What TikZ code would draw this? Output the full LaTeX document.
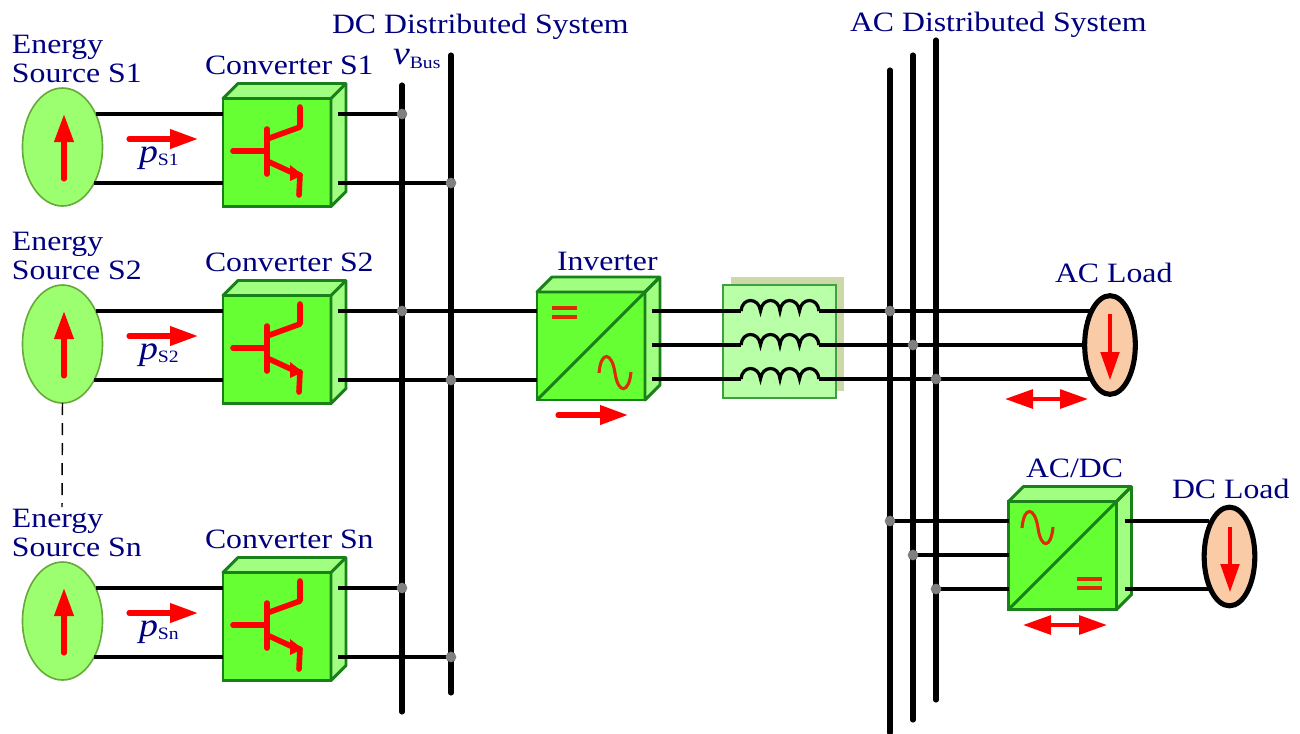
\documentclass[tikz,border=0pt]{standalone}
\usepackage{fontspec}
\setmainfont[FakeStretch=1.135]{Liberation Serif}
\usetikzlibrary{shapes.geometric,arrows.meta}
\pgfdeclarelayer{dots}
\pgfsetlayers{main,dots}
\definecolor{navytext}{HTML}{00007F}
\definecolor{cubefront}{HTML}{66FF33}
\definecolor{cubelight}{HTML}{A0FF80}
\definecolor{cubeline}{HTML}{1A801A}
\definecolor{srcfill}{HTML}{9CFF70}
\definecolor{srcline}{HTML}{66A83A}
\definecolor{loadfill}{HTML}{F9CBA6}
\definecolor{filterfill}{HTML}{B8FFA8}
\definecolor{filterline}{HTML}{3FA03F}
\definecolor{filtershade}{HTML}{CCD8A8}
\definecolor{symbolred}{HTML}{DD2A00}
\tikzset{
  lbl/.style={text=navytext,font=\fontsize{21}{21}\selectfont,inner sep=0pt,outer sep=0pt,anchor=base west},
  source/.style={ellipse,draw=srcline,fill=srcfill,line width=1.2pt,minimum width=60pt,minimum height=88.5pt,inner sep=0pt,outer sep=0pt},
  load/.style={ellipse,draw=black,fill=loadfill,line width=3.8pt,minimum width=38pt,minimum height=74pt,inner sep=0pt,outer sep=0pt},
  cubebox/.style={rectangle,draw=cubeline,fill=cubefront,line width=2.2pt,minimum size=81pt,inner sep=0pt,outer sep=0pt},
  cubeface/.style={draw=cubeline,fill=cubelight,line width=2.2pt,line join=round},
  cubeedge/.style={draw=cubeline,line width=2.2pt},
  bus/.style={line width=3.8pt,line cap=round},
  wire/.style={line width=2.4pt},
  junction/.style={circle,fill=black!50,inner sep=0pt,outer sep=0pt,minimum size=8pt},
  flow/.style={draw=red,line width=3.8pt,line cap=round,-{Triangle[length=21pt,width=14pt,fill=red]}},
  biflow/.style={draw=red,line width=3pt,{Triangle[length=21pt,width=14pt,fill=red]}-{Triangle[length=21pt,width=14pt,fill=red]}},
  loadflow/.style={draw=red,line width=2.3pt,-{Triangle[length=21pt,width=14pt,fill=red]}},
  igbt/.style={draw=red,line width=4.2pt,line cap=round,line join=round},
  symbol/.style={draw=symbolred,line width=2.3pt},
}
\newcommand{\cubefaces}[1]{
  \draw[cubeface] (#1.north west) -- ++(15,-15) -- ++(108,0) -- ++(0,108) -- ++(-15,15) -- (#1.north east) -- cycle;
  \draw[cubeedge] (#1.north east) -- ++(15,-15);
}
\newcommand{\bigsym}[1]{{\fontsize{25}{25}\selectfont\textit{#1}}}
\begin{document}
\begin{tikzpicture}[x=.75pt,y=-.75pt]
  \useasboundingbox (0,0) rectangle (1300,733);
  % buses
  \foreach \name/\x/\top/\bot in {busa/402/85/712,busb/451/55/693,busc/890/70/733,busd/913/55/720,buse/936/40/700}{
    \coordinate (\name top) at (\x,\top);
    \coordinate (\name bot) at (\x,\bot);
    \draw[bus] (\name top) -- (\name bot);
  }
  \node[lbl] (dcsys) at (332,33) {DC Distributed System};
  \node[lbl] (acsys) at (850,31) {AC Distributed System};
  \node[lbl] (vbus) at (393,64) {\bigsym{v}\raisebox{-3pt}{\fontsize{13}{13}\selectfont Bus}};
  % source rows
  \foreach \n/\lab/\dy in {1/S1/0,2/S2/197,n/Sn/474}{
    \begin{scope}[shift={(0,\dy)}]
      \node[lbl,anchor=base west] (ename\n) at (12,53) {Energy};
      \node[lbl] (sname\n) at (12,82) {Source \lab};
      \node[lbl] (cname\n) at (205,74) {Converter \lab};
      \node[source] (src\n) at (62.5,147) {};
      \node[cubebox] (conv\n) at (277,152.5) {};
      \cubefaces{conv\n}
      \coordinate (sa\n) at (95.5,114);
      \coordinate (sb\n) at (94,183);
      \coordinate (oa\n) at (338,114);
      \coordinate (ob\n) at (338,183);
      \begin{pgfonlayer}{dots}
        \node[junction] (ja\n) at (402,114) {};
        \node[junction] (jb\n) at (451,183) {};
      \end{pgfonlayer}
      \draw[wire] (sa\n) -- (sa\n -| conv\n.west);
      \draw[wire] (sb\n) -- (sb\n -| conv\n.west);
      \draw[wire] (oa\n) -- (ja\n.center);
      \draw[wire] (ob\n) -- (jb\n.center);
      \draw[flow] (64,179) -- (64,114);
      \draw[flow] (129,139) -- (198,139);
      \node[lbl] (pname\n) at (139,162) {\bigsym{p}\raisebox{-2.5pt}{\fontsize{13}{13}\selectfont \lab}};
      % transistor
      \draw[igbt] (233,151) -- (267,151);
      \draw[igbt] (267,129) -- (267,174);
      \draw[igbt] (267,139) -- (300,127) -- (300,107);
      \draw[igbt] (267,161) -- (293,173) -- (300,175) -- (299,195);
      \fill[red] (290,165) -- (303,175) -- (290,181) -- cycle;
    \end{scope}
  }
  \coordinate (dashend) at (62,507);
  \draw[line width=1.1pt,dash pattern=on 9pt off 6pt] (src2.south) -- (dashend);
  % inverter
  \node[lbl] (invname) at (557,270) {Inverter};
  \node[cubebox] (inv) at (591,346) {};
  \cubefaces{inv}
  \draw[cubeedge] (inv.south west) -- (inv.north east) -- ++(15,-15);
  \draw[symbol] (552,308) -- (577,308) (552,317) -- (577,317);
  \draw[symbol] (599,373) .. controls (601,350) and (612,352) .. (615,373) .. controls (618,394) and (629,394) .. (631,372);
  \draw[wire] (ja2.center) -- (ja2 -| inv.west);
  \draw[wire] (jb2.center) -- (jb2 -| inv.west);
  \draw[flow] (558,415) -- (628,415);
  % filter
  \fill[filtershade] (731,277) rectangle (844,391);
  \node[rectangle,draw=filterline,fill=filterfill,line width=1.1pt,minimum width=84.75pt,minimum height=84.75pt,inner sep=0pt,outer sep=0pt] (filt) at (779.5,341.5) {};
  \begin{pgfonlayer}{dots}
    \node[junction] (jac1) at (890,311) {};
    \node[junction] (jac2) at (913,345) {};
    \node[junction] (jac3) at (936,379) {};
    \node[junction] (jdc1) at (890,521) {};
    \node[junction] (jdc2) at (913,555) {};
    \node[junction] (jdc3) at (936,589) {};
  \end{pgfonlayer}
  \foreach \i/\y/\xl in {1/311/1091.5,2/345/1084.5,3/379/1091.5}{
    \coordinate (invo\i) at (652,\y);
    \coordinate (coila\i) at (741,\y);
    \coordinate (coilb\i) at (819,\y);
    \coordinate (loada\i) at (\xl,\y);
    \draw[wire] (invo\i) -- (coila\i);
    \draw[wire] (coilb\i) -- (loada\i);
    \draw[wire] (741,\y) .. controls (742,\y-14) and (759,\y-14) .. (760.5,\y)
      .. controls (762,\y-14) and (779,\y-14) .. (780,\y)
      .. controls (781,\y-14) and (798,\y-14) .. (799.5,\y)
      .. controls (801,\y-14) and (818,\y-14) .. (819,\y);
  }
  % ac load
  \node[load] (acload) at (1110,345) {};
  \node[lbl] (acname) at (1055,282) {AC Load};
  \draw[loadflow] (1110,314) -- (1110,380);
  \draw[biflow] (1005,399) -- (1088,399);
  % ac/dc
  \node[lbl] (rectname) at (1026,477) {AC/DC};
  \node[cubebox] (rect) at (1062.5,555.5) {};
  \cubefaces{rect}
  \draw[cubeedge] (rect.south west) -- (rect.north east) -- ++(15,-15);
  \draw[symbol] (1022,528) .. controls (1024,505) and (1035,507) .. (1038,528) .. controls (1041,549) and (1051,549) .. (1053,527);
  \draw[symbol] (1077,579) -- (1102,579) (1077,588) -- (1102,588);
  \draw[wire] (jdc1.center) -- (jdc1 -| rect.west);
  \draw[wire] (jdc2.center) -- (jdc2 -| rect.west);
  \draw[wire] (jdc3.center) -- (jdc3 -| rect.west);
  \draw[biflow] (1023,625) -- (1107,625);
  % dc load
  \node[load] (dcload) at (1229.5,556.5) {};
  \node[lbl] (dcname) at (1172,498) {DC Load};
  \coordinate (rectoa) at (1125,521);
  \coordinate (rectob) at (1125,589);
  \coordinate (dcla) at (1209,521);
  \coordinate (dclb) at (1209,589);
  \draw[wire] (rectoa) -- (dcla);
  \draw[wire] (rectob) -- (dclb);
  \draw[loadflow] (1230,527) -- (1230,592);
\end{tikzpicture}
\end{document}
